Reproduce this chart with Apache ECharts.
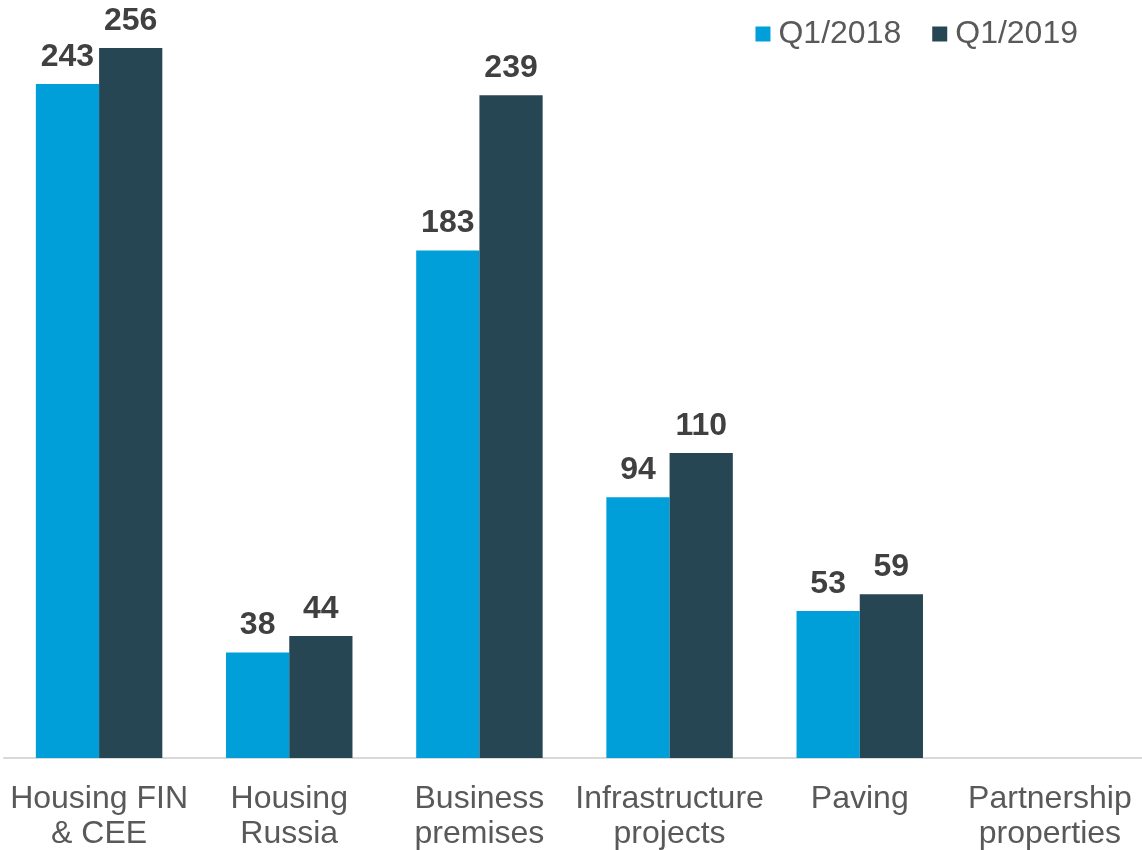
<!DOCTYPE html>
<html>
<head>
<meta charset="utf-8">
<script src="https://cdn.jsdelivr.net/npm/echarts@6/dist/echarts.min.js"></script>
<style>
  html, body { margin: 0; padding: 0; background: #fff; }
  #chart { width: 1142px; height: 850px; }
</style>
</head>
<body>
<div id="chart"></div>
<script>
// categories and values
var categories = ['Housing FIN\n& CEE', 'Housing\nRussia', 'Business\npremises', 'Infrastructure\nprojects', 'Paving', 'Partnership\nproperties'];
var seriesNames = ['Q1/2018', 'Q1/2019'];
var q12018 = [243, 38, 183, 94, 53, null];
var q12019 = [256, 44, 239, 110, 59, null];
var colors = ['#009fda', '#274654'];

var chart = echarts.init(document.getElementById('chart'));

var labelStyle = {
  show: true,
  position: 'top',
  distance: 11,
  color: '#404040',
  fontFamily: 'Liberation Sans, Arial, sans-serif',
  fontWeight: 'bold',
  fontSize: 32
};

var option = {
  animation: false,
  color: colors,
  legend: {
    data: seriesNames,
    right: 59,
    top: 13,
    icon: 'rect',
    itemWidth: 15,
    itemHeight: 15,
    itemGap: 31,
    textStyle: {
      color: '#595959',
      fontFamily: 'Liberation Sans, Arial, sans-serif',
      fontSize: 32,
      padding: [0, 0, 0, 3]
    }
  },
  grid: {
    left: 4,
    right: -3,
    top: 0,
    bottom: 92,
    outerBoundsMode: 'none'
  },
  xAxis: {
    type: 'category',
    data: categories,
    axisTick: { show: false },
    axisLine: { lineStyle: { color: '#d9d9d9', width: 2 } },
    axisLabel: {
      color: '#595959',
      fontFamily: 'Liberation Sans, Arial, sans-serif',
      fontSize: 32,
      lineHeight: 35,
      margin: 24,
      interval: 0
    }
  },
  yAxis: {
    type: 'value',
    min: 0,
    max: 273.3,
    show: false,
    splitLine: { show: false }
  },
  series: [
    {
      name: seriesNames[0],
      type: 'bar',
      data: q12018,
      barGap: '0%',
      barCategoryGap: '33.5%',
      label: labelStyle
    },
    {
      name: seriesNames[1],
      type: 'bar',
      data: q12019,
      barGap: '0%',
      barCategoryGap: '33.5%',
      label: labelStyle
    }
  ]
};

chart.setOption(option);
</script>
</body>
</html>
